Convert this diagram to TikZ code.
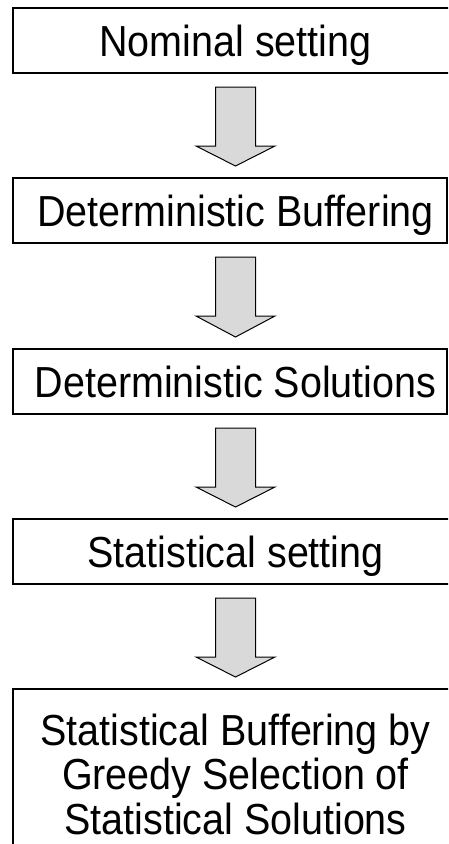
\documentclass[tikz,border=0pt]{standalone}
\usepackage{fontspec}
\setmainfont{Liberation Sans}
\usepackage{graphicx}
\usetikzlibrary{calc}
\tikzset{
  box/.style={draw=black, line width=1.4pt, fill=white, inner sep=0pt, outer sep=0pt, anchor=north west, minimum height=65pt},
  lbl/.style={inner sep=0pt, anchor=base, font=\fontsize{39.5}{40}\selectfont},
  blockarrow/.style={draw=black, line width=1pt, fill=gray!30, line join=miter}
}
\newcommand{\stretchtext}[1]{\scalebox{1}[1.1]{#1}}
\newcommand{\flowarrow}[3]{%
  \coordinate (fa) at (#1.south -| #3);
  \coordinate (fb) at (#2.north -| #3);
  \draw[blockarrow] ($(fa)+(-20,14)$) -- ($(fa)+(20,14)$) -- ($(fa)+(20,73)$) -- ($(fa)+(39.5,73)$) -- ($(fb)+(0,-12)$) -- ($(fa)+(-39.5,73)$) -- ($(fa)+(-20,73)$) -- cycle;}
\begin{document}
\begin{tikzpicture}[x=1pt,y=-1pt]
\useasboundingbox (0,0) rectangle (448,844);
\clip (0,0) rectangle (448,844);
\node[box, minimum width=447pt] (b1) at (13,8) {};
\node[box, minimum width=434pt] (b2) at (13,178) {};
\node[box, minimum width=434pt] (b3) at (13,349) {};
\node[box, minimum width=447pt] (b4) at (13,519) {};
\node[box, minimum width=447pt, minimum height=220pt] (b5) at (13,689) {};
\node[lbl] (t1) at (235.5,56.5) {\stretchtext{Nominal setting}};
\node[lbl] (t2) at (235.5,226.5) {\stretchtext{Deterministic Buffering}};
\node[lbl] (t3) at (235.5,397) {\stretchtext{Deterministic Solutions}};
\node[lbl] (t4) at (235.5,567) {\stretchtext{Statistical setting}};
\node[lbl] (t5) at (235.5,745) {\stretchtext{\begin{tabular}[t]{@{}c@{}}Statistical Buffering by\\Greedy Selection of\\Statistical Solutions\end{tabular}}};
\flowarrow{b1}{b2}{t1}
\flowarrow{b2}{b3}{t1}
\flowarrow{b3}{b4}{t1}
\flowarrow{b4}{b5}{t1}
\end{tikzpicture}
\end{document}
